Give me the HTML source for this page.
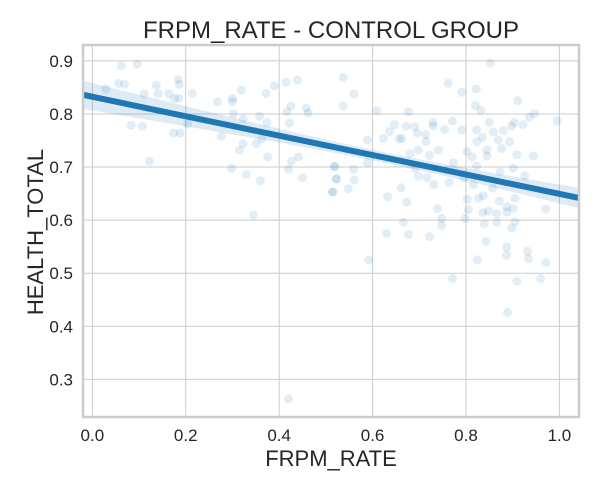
<!DOCTYPE html>
<html><head><meta charset="utf-8"><style>
body{margin:0;background:#fff;}
svg text{font-family:"Liberation Sans",Arial,sans-serif;fill:#262626;}
</style></head><body>
<svg id="chart" width="599" height="490" xmlns="http://www.w3.org/2000/svg">
<rect x="0" y="0" width="599" height="490" fill="#fff"/>
<g id="grid"></g>
<g id="band"></g>
<g id="points"></g>
<g id="line"></g>
<rect x="83" y="45" width="496" height="372" fill="none" stroke="#cccccc" stroke-width="2.5"/>
<g id="ticks"></g>
<text x="331" y="38" font-size="24" text-anchor="middle">FRPM_RATE - CONTROL GROUP</text>
<text x="331" y="466" font-size="22" text-anchor="middle">FRPM_RATE</text>
<text x="0" y="0" font-size="22" text-anchor="middle" transform="translate(43,232) rotate(-90)">HEALTH_TOTAL</text>
</svg>
<script>
const xTicks=[0.0,0.2,0.4,0.6,0.8,1.0];
const xTickLabels=["0.0","0.2","0.4","0.6","0.8","1.0"];
const yTicks=[0.3,0.4,0.5,0.6,0.7,0.8,0.9];
const yTickLabels=["0.3","0.4","0.5","0.6","0.7","0.8","0.9"];
const frpm=[0.062,0.096,0.056,0.069,0.029,0.111,0.137,0.141,0.164,0.184,0.186,0.176,0.185,0.214,0.083,0.107,0.122,0.174,0.188,0.204,0.268,0.300,0.300,0.319,0.302,0.323,0.358,0.372,0.390,0.415,0.439,0.425,0.417,0.458,0.462,0.422,0.374,0.276,0.323,0.315,0.351,0.363,0.375,0.426,0.441,0.420,0.298,0.330,0.360,0.450,0.518,0.522,0.514,0.345,0.420,
0.537,0.560,0.537,0.589,0.589,0.519,0.523,0.515,0.559,0.561,0.548,0.609,0.592,0.623,0.636,0.647,0.657,0.663,0.677,0.672,0.690,0.696,0.714,0.714,0.729,0.730,0.754,0.771,0.791,0.762,0.791,0.822,0.852,0.820,0.832,0.911,0.850,0.823,0.835,0.823,0.859,0.880,0.898,0.903,0.922,0.936,0.947,0.996,0.869,0.893,0.876,0.845,0.845,0.802,0.813,0.909,0.944,0.680,0.698,0.722,0.741,0.691,0.698,0.717,0.731,0.764,0.773,0.795,0.816,0.823,0.803,0.827,0.837,0.857,0.873,0.901,0.926,0.871,0.887,0.905,0.901,0.971,0.836,0.848,0.866,0.887,0.798,0.805,0.748,0.739,0.632,0.661,0.673,0.748,0.666,0.630,0.677,0.722,0.839,0.866,0.905,0.898,0.843,0.887,0.887,0.932,0.934,0.971,0.824,0.771,0.909,0.960,0.889];
const health=[0.891,0.894,0.858,0.856,0.847,0.838,0.854,0.838,0.838,0.865,0.856,0.829,0.830,0.839,0.779,0.777,0.711,0.764,0.764,0.781,0.823,0.829,0.823,0.845,0.800,0.791,0.796,0.839,0.853,0.860,0.864,0.815,0.804,0.811,0.802,0.783,0.784,0.758,0.744,0.732,0.744,0.753,0.719,0.711,0.719,0.696,0.698,0.686,0.674,0.680,0.701,0.677,0.653,0.609,0.263,
0.869,0.838,0.815,0.751,0.708,0.701,0.678,0.653,0.696,0.676,0.659,0.806,0.525,0.754,0.767,0.780,0.753,0.754,0.804,0.777,0.776,0.764,0.761,0.748,0.784,0.777,0.771,0.787,0.770,0.858,0.841,0.847,0.896,0.816,0.807,0.825,0.784,0.770,0.756,0.748,0.766,0.769,0.777,0.784,0.780,0.794,0.801,0.787,0.751,0.748,0.735,0.732,0.721,0.729,0.719,0.723,0.721,0.725,0.732,0.722,0.732,0.698,0.683,0.680,0.667,0.671,0.708,0.680,0.667,0.702,0.639,0.641,0.646,0.660,0.691,0.698,0.683,0.636,0.625,0.641,0.622,0.621,0.614,0.617,0.612,0.615,0.603,0.620,0.603,0.622,0.644,0.661,0.634,0.590,0.596,0.575,0.573,0.569,0.593,0.596,0.597,0.585,0.560,0.549,0.534,0.541,0.527,0.520,0.525,0.490,0.485,0.490,0.426];
const NS='http://www.w3.org/2000/svg';
const L=83,R=579,T=45,B=417,XMIN=-0.02,XMAX=1.042,YMIN=0.229,YMAX=0.930;
function sx(v){return L+(v-XMIN)/(XMAX-XMIN)*(R-L);}
function sy(v){return B-(v-YMIN)/(YMAX-YMIN)*(B-T);}
function mk(tag,attrs,parent){const e=document.createElementNS(NS,tag);for(const k in attrs)e.setAttribute(k,attrs[k]);parent.appendChild(e);return e;}
const grid=document.getElementById('grid'),ticks=document.getElementById('ticks');
xTicks.forEach((t,i)=>{
 const g=mk('line',{x1:sx(t),x2:sx(t),y1:T,y2:B,stroke:'#cccccc','stroke-width':1},grid);
 
 
 const tx=mk('text',{x:sx(t),y:441,'font-size':17,'text-anchor':'middle'},ticks);
 
 
 tx.textContent=xTickLabels[i];
});
yTicks.forEach((t,i)=>{
 const g=mk('line',{x1:L,x2:R,y1:sy(t),y2:sy(t),stroke:'#cccccc','stroke-width':1},grid);
 
 
 const tx=mk('text',{x:73,y:sy(t)+6,'font-size':17,'text-anchor':'end'},ticks);
 
 
 tx.textContent=yTickLabels[i];
});
const pts=document.getElementById('points');
for(let i=0;i<frpm.length;i++){
 const c=mk('circle',{cx:sx(frpm[i]),cy:sy(health[i]),r:4.5,fill:'#1f77b4','fill-opacity':0.13},pts);
 
 
}
const n=frpm.length;let mx=0,my=0;for(let i=0;i<n;i++){mx+=frpm[i];my+=health[i];}mx/=n;my/=n;
let sxx=0,sxy=0;for(let i=0;i<n;i++){sxx+=(frpm[i]-mx)**2;sxy+=(frpm[i]-mx)*(health[i]-my);}
const slope=sxy/sxx,icpt=my-slope*mx;
let sse=0;for(let i=0;i<n;i++){sse+=(health[i]-icpt-slope*frpm[i])**2;}
const se=Math.sqrt(sse/(n-2));
const xs=[];for(let k=0;k<=60;k++)xs.push(XMIN+(XMAX-XMIN)*k/60);
const up=[],lo=[];
xs.forEach(x=>{const h=1.4*se*Math.sqrt(1/n+(x-mx)**2/sxx);const y=icpt+slope*x;up.push(sx(x)+','+sy(y+h));lo.unshift(sx(x)+','+sy(y-h));});
const band=mk('polygon',{points:up.concat(lo).join(' '),fill:'#1f77b4','fill-opacity':0.15},document.getElementById('band'));


const ln=mk('line',{x1:sx(XMIN),y1:sy(icpt+slope*XMIN),x2:sx(XMAX),y2:sy(icpt+slope*XMAX),stroke:'#1f77b4','stroke-width':6},document.getElementById('line'));


</script>
</body></html>
